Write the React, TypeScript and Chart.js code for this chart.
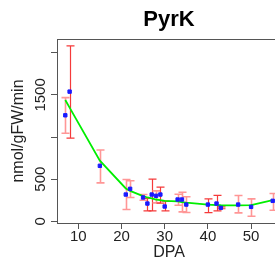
import { useEffect, useRef } from "react";
import { Chart, registerables } from "chart.js";

Chart.register(...registerables);

const dpa = [7, 8, 15, 21, 22, 25, 26, 27, 28, 29, 30, 33, 34, 35, 40, 42, 43, 47, 50, 55];
const meanActivity = [1258, 1539, 658, 317, 385, 282, 210, 317, 302, 317, 175, 258, 258, 198, 198, 210, 159, 198, 171, 242];
const upperBar = [1468, 2083, 845, 496, 480, 317, 270, 500, 361, 405, 238, 321, 345, 290, 266, 306, 170, 306, 266, 329];
const lowerBar = [1044, 988, 456, 139, 282, 250, 123, 123, 218, 215, 123, 190, 111, 103, 103, 123, 148, 99, 60, 131];
const fittedActivity = [1440, 1349, 720, 389, 361, 298, 282, 270, 258, 250, 242, 235, 228, 222, 198, 192, 190, 188, 192, 250];
const barTone = ["pink", "red", "pink", "pink", "pink", "pink", "red", "red", "pink", "red", "red", "pink", "pink", "pink", "red", "red", "red", "pink", "pink", "pink"];

const xTickValues = [10, 20, 30, 40, 50];
const yTickValues = [0, 500, 1000, 1500, 2000];
const yTickLabels = ["0", "500", "", "1500", ""];

const FONT = "'Liberation Sans', Arial, sans-serif";
const CANVAS_W = 290;
const CANVAS_H = 268;

const framePlugin = {
  id: "frame",
  beforeDatasetsDraw(chart: any) {
    const { ctx, chartArea } = chart;
    ctx.save();
    ctx.strokeStyle = "#555";
    ctx.lineWidth = 1;
    ctx.strokeRect(
      Math.round(chartArea.left) + 0.5,
      Math.round(chartArea.top) + 0.5,
      Math.round(chartArea.right - chartArea.left),
      Math.round(chartArea.bottom - chartArea.top)
    );
    ctx.restore();
  },
};

const errorBarPlugin = {
  id: "errorBars",
  beforeDatasetsDraw(chart: any) {
    const { ctx } = chart;
    const xs = chart.scales.x;
    const ys = chart.scales.y;
    ctx.save();
    dpa.forEach((d, i) => {
      const px = Math.round(xs.getPixelForValue(d)) + 0.5;
      const top = ys.getPixelForValue(upperBar[i]);
      const bot = ys.getPixelForValue(lowerBar[i]);
      const red = barTone[i] === "red";
      ctx.strokeStyle = red ? "#f53a3a" : "#ff9696";
      ctx.lineWidth = red ? 1.2 : 1.6;
      ctx.beginPath();
      ctx.moveTo(px, top);
      ctx.lineTo(px, bot);
      ctx.moveTo(px - 4, top);
      ctx.lineTo(px + 4, top);
      ctx.moveTo(px - 4, bot);
      ctx.lineTo(px + 4, bot);
      ctx.stroke();
    });
    ctx.restore();
  },
};

export default function App() {
  const canvasRef = useRef<HTMLCanvasElement | null>(null);

  useEffect(() => {
    if (!canvasRef.current) return;
    Chart.defaults.font.family = FONT;
    Chart.defaults.color = "#222";
    const chart = new Chart(canvasRef.current, {
      type: "line",
      data: {
        datasets: [
          {
            label: "mean",
            data: dpa.map((d, i) => ({ x: d, y: meanActivity[i] })),
            showLine: false,
            pointRadius: 2.4,
            pointStyle: "rect",
            pointBackgroundColor: "#1a1aff",
            pointBorderColor: "#1a1aff",
            pointBorderWidth: 1,
          },
          {
            label: "fit",
            data: dpa.map((d, i) => ({ x: d, y: fittedActivity[i] })),
            borderColor: "#00ee00",
            borderWidth: 1.8,
            pointRadius: 0,
            tension: 0,
            fill: false,
          },
        ],
      },
      options: {
        responsive: false,
        animation: false,
        devicePixelRatio: 1,
        layout: { padding: { left: 0, top: 0, right: 9, bottom: 0 } },
        plugins: {
          legend: { display: false },
          tooltip: { enabled: false },
          title: {
            display: true,
            text: "PyrK",
            fullSize: false,
            color: "#000",
            font: { family: FONT, size: 22, weight: "bold" },
            padding: { top: 7, bottom: 5.6 },
          },
        },
        scales: {
          x: {
            type: "linear",
            min: 5.08,
            max: 56.92,
            afterFit: (s: any) => {
              s.height = 45;
            },
            afterBuildTicks: (s: any) => {
              s.ticks = xTickValues.map((v) => ({ value: v }));
            },
            border: { display: false },
            grid: { drawOnChartArea: false, drawTicks: true, tickLength: 6, color: "#555" },
            ticks: {
              autoSkip: false,
              maxRotation: 0,
              padding: -1,
              color: "#222",
              font: { family: FONT, size: 15 },
            },
            title: {
              display: true,
              text: "DPA",
              color: "#222",
              font: { family: FONT, size: 16 },
              padding: { top: 0, bottom: 5.5 },
            },
          },
          y: {
            type: "linear",
            min: -21,
            max: 2164,
            afterFit: (s: any) => {
              s.width = 57;
            },
            afterBuildTicks: (s: any) => {
              s.ticks = yTickValues.map((v) => ({ value: v }));
            },
            border: { display: false },
            grid: { drawOnChartArea: false, drawTicks: true, tickLength: 6, color: "#555" },
            ticks: {
              autoSkip: false,
              minRotation: 90,
              maxRotation: 90,
              crossAlign: "center",
              padding: -6.5,
              color: "#222",
              font: { family: FONT, size: 15 },
              callback: (value: any) => {
                const idx = yTickValues.indexOf(Number(value));
                return idx >= 0 ? yTickLabels[idx] : "";
              },
            },
            title: {
              display: true,
              text: "nmol/gFW/min",
              color: "#222",
              font: { family: FONT, size: 16 },
              padding: { top: 9.4, bottom: 0 },
            },
          },
        },
      },
      plugins: [framePlugin, errorBarPlugin],
    } as any);
    return () => chart.destroy();
  }, []);

  return (
    <div
      style={{
        position: "absolute",
        left: 0,
        top: 0,
        width: 275,
        height: 268,
        overflow: "hidden",
        background: "#fff",
      }}
    >
      <canvas
        ref={canvasRef}
        width={CANVAS_W}
        height={CANVAS_H}
        style={{ width: CANVAS_W, height: CANVAS_H, display: "block" }}
      />
    </div>
  );
}
